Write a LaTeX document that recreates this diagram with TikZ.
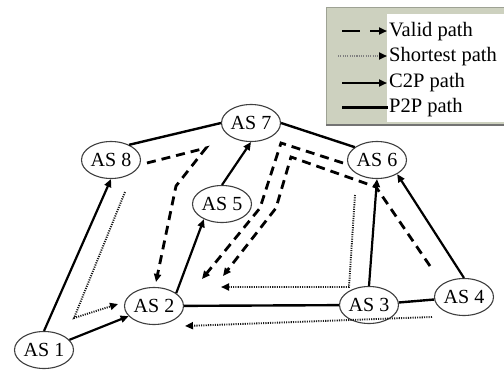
\documentclass[tikz,border=0pt]{standalone}
\usepackage{fontspec}
\setmainfont{Liberation Serif}
\usetikzlibrary{shapes.geometric,arrows.meta}
\definecolor{legfill}{HTML}{CDD1BF}
\definecolor{legedge}{HTML}{9EA294}
\begin{document}
\begin{tikzpicture}[x=1pt,y=-1pt,
  asnode/.style={ellipse,draw=black!75,line width=1.1pt,fill=white,
    minimum width=59pt,minimum height=37pt,inner sep=0pt,
    font=\fontsize{20}{24}\selectfont},
  tip/.style={-{Triangle[length=8pt,width=7pt,black]}},
  p2p/.style={line width=2.4pt},
  c2p/.style={line width=2.2pt,tip},
  valid/.style={line width=2.8pt,dash pattern=on 9pt off 6pt,tip},
  shortest/.style={line width=1.9pt,dash pattern=on 1.1pt off 1.2pt,black!90,tip},
  legtext/.style={anchor=west,inner sep=0pt,font=\fontsize{20.5}{24}\selectfont}]
\useasboundingbox (0,0) rectangle (504,370);

% legend panel
\fill[legfill] (326,7) rectangle (505,125);
\draw[legedge,line width=1pt] (326,125) -- (326,7) -- (505,7);
\draw[black!55,line width=1.5pt] (326,125) -- (505,125);
\fill[white] (387,14) rectangle (505,122);

\coordinate (k1a) at (342,31);  \coordinate (k1b) at (387,31);
\coordinate (k2a) at (338,56);  \coordinate (k2b) at (387,56);
\coordinate (k3a) at (342,83);  \coordinate (k3b) at (387,83);
\coordinate (k4a) at (342,107); \coordinate (k4b) at (388,107);
\draw[valid,dash pattern=on 18pt off 10pt] (k1a) -- (k1b);
\draw[shortest,black!50] (k2a) -- (k2b);
\draw[c2p] (k3a) -- (k3b);
\draw[p2p,line width=3pt] (k4a) -- (k4b);
\node[legtext] (l1) at (389,32) {Valid path};
\node[legtext] (l2) at (389,57) {Shortest path};
\node[legtext] (l3) at (389,83) {C2P path};
\node[legtext] (l4) at (389,108) {P2P path};

% autonomous systems
\node[asnode] (as7) at (251,123) {AS 7};
\node[asnode] (as8) at (111,160) {AS 8};
\node[asnode] (as6) at (377,160) {AS 6};
\node[asnode] (as5) at (222,204) {AS 5};
\node[asnode] (as2) at (154,306) {AS 2};
\node[asnode] (as3) at (369,305) {AS 3};
\node[asnode] (as4) at (464,297) {AS 4};
\node[asnode] (as1) at (44,350) {AS 1};

% peer-to-peer links
\draw[p2p] (as8.40) -- (as7.west);
\draw[p2p] (as7.east) -- (as6.150);
\draw[p2p] (as2) -- (as3);
\draw[p2p] (as3) -- (as4);

% customer-to-provider links
\draw[c2p] (as1.north) -- (as8.south);
\draw[c2p] (as1) -- (as2);
\draw[c2p] (as5.north) -- (as7.south);
\draw[c2p] (as2.30) -- (as5.-140);
\draw[c2p] (as3.north) -- (as6.south);
\draw[c2p] (as4.north) -- (as6.-35);

% valid paths
\coordinate (v1a) at (147,163); \coordinate (v1b) at (206,148);
\coordinate (v1c) at (176,186); \coordinate (v1d) at (156,282);
\draw[valid] (v1a) -- (v1b) -- (v1c) -- (v1d);
\coordinate (v2a) at (343,163); \coordinate (v2b) at (281,143);
\coordinate (v2c) at (260,208); \coordinate (v2d) at (202,279);
\draw[valid] (v2a) -- (v2b) -- (v2c) -- (v2d);
\coordinate (v3a) at (430,266); \coordinate (v3b) at (376,187);
\coordinate (v3c) at (291,157); \coordinate (v3d) at (276,208);
\coordinate (v3e) at (223,276);
\draw[valid] (v3a) -- (v3b) -- (v3c) -- (v3d) -- (v3e);

% shortest paths
\coordinate (s1a) at (125,192); \coordinate (s1b) at (74,318);
\coordinate (s1c) at (118,304);
\draw[shortest] (s1a) -- (s1b) -- (s1c);
\coordinate (s2a) at (355,195); \coordinate (s2b) at (349,287);
\coordinate (s2c) at (221,287);
\draw[shortest] (s2a) -- (s2b) -- (s2c);
\coordinate (s3a) at (432,317); \coordinate (s3b) at (185,326);
\draw[shortest] (s3a) -- (s3b);
\end{tikzpicture}
\end{document}
